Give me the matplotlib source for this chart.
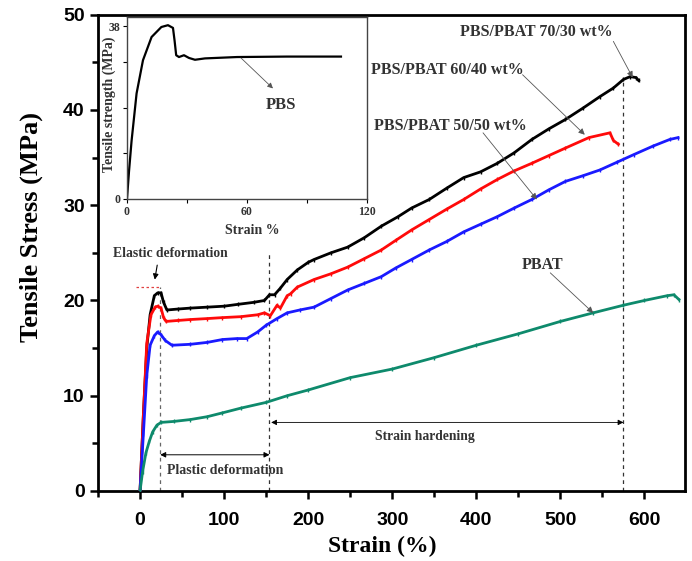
import matplotlib
matplotlib.use("Agg")
import matplotlib.pyplot as plt
from matplotlib.ticker import MultipleLocator, FixedLocator

SERIF = ["Liberation Serif", "DejaVu Serif"]
SANS = ["Liberation Sans", "DejaVu Sans"]

# ---------------- data ----------------
x_7030 = [0, 4, 8, 12, 17, 21, 25, 28, 32, 45, 60, 80, 100, 117, 135, 148, 154, 160, 167, 175, 187, 200,
          207, 227, 247, 267, 287, 307, 323, 344, 365, 385, 405, 425, 445, 466, 486, 506, 527, 547, 563,
          575, 583, 590, 593]
y_7030 = [0, 8, 15, 18.5, 20.5, 20.8, 20.8, 19.8, 19.0, 19.1, 19.2, 19.3, 19.4, 19.6, 19.8, 20.0, 20.6,
          20.6, 21.3, 22.2, 23.2, 24.0, 24.3, 25.0, 25.6, 26.6, 27.8, 28.8, 29.7, 30.6, 31.8, 32.9, 33.5,
          34.4, 35.5, 36.9, 38.0, 39.0, 40.2, 41.4, 42.3, 43.2, 43.5, 43.4, 43.1]

x_6040 = [0, 4, 8, 13, 18, 21, 25, 28, 31, 45, 60, 80, 98, 120, 140, 148, 155, 163, 167, 175, 179, 187,
          207, 227, 247, 267, 287, 304, 323, 344, 365, 385, 405, 425, 445, 466, 486, 506, 534, 559, 563, 569]
y_6040 = [0, 8, 15.5, 18.5, 19.3, 19.4, 19.2, 18.2, 17.8, 17.9, 18.0, 18.1, 18.2, 18.3, 18.5, 18.7, 18.4,
          19.5, 19.2, 20.5, 20.7, 21.4, 22.2, 22.8, 23.5, 24.4, 25.3, 26.3, 27.4, 28.5, 29.6, 30.6, 31.7,
          32.7, 33.6, 34.4, 35.2, 36.0, 37.1, 37.6, 36.8, 36.4]

x_5050 = [0, 4, 8, 12, 17, 21, 25, 30, 38, 60, 80, 98, 115, 127, 140, 150, 163, 175, 190, 207, 227, 247,
          267, 287, 304, 323, 344, 365, 385, 405, 425, 445, 466, 486, 506, 527, 547, 567, 587, 610, 630, 640]
y_5050 = [0, 6, 12.1, 15.3, 16.3, 16.7, 16.4, 15.8, 15.3, 15.4, 15.6, 15.9, 16.0, 16.0, 16.7, 17.4, 18.1,
          18.7, 19.0, 19.3, 20.2, 21.1, 21.8, 22.5, 23.4, 24.3, 25.3, 26.2, 27.2, 28.0, 28.8, 29.7, 30.6,
          31.6, 32.5, 33.1, 33.7, 34.5, 35.3, 36.2, 36.9, 37.1]

x_pbat = [0, 3, 7, 11, 15, 20, 25, 40, 60, 80, 98, 120, 150, 175, 200, 250, 300, 350, 400, 450, 500, 539,
          575, 600, 627, 635, 641]
y_pbat = [0, 2, 4, 5.2, 6.2, 6.9, 7.2, 7.3, 7.5, 7.8, 8.2, 8.7, 9.3, 10.0, 10.6, 11.9, 12.8, 14.0, 15.3,
          16.5, 17.8, 18.7, 19.5, 20.0, 20.5, 20.6, 20.1]

x_pbs = [0, 1, 2.3, 4.8, 8, 12.3, 17.2, 20.5, 23, 23.8, 24.6, 26, 28.5, 31, 34, 39, 55, 80, 107]
y_pbs = [0, 6, 12.8, 23.2, 30.5, 35.6, 37.8, 38.2, 37.6, 34.8, 31.6, 31.2, 31.6, 31.0, 30.6, 30.9, 31.2,
         31.3, 31.3]

series_labels = ["PBS/PBAT 70/30 wt%", "PBS/PBAT 60/40 wt%", "PBS/PBAT 50/50 wt%", "PBAT"]
series_colors = ["#000000", "#ff0a0a", "#1a1aff", "#0e8a6c"]

x_ticks = [0, 100, 200, 300, 400, 500, 600]
y_ticks = [0, 10, 20, 30, 40, 50]

elastic_end = 24
plastic_end = 154
hardening_end = 575

# ---------------- figure ----------------
fig = plt.figure(figsize=(6.92, 5.61), dpi=100)
ax = fig.add_axes([0.1416, 0.1248, 0.848, 0.849])

xs = [x_7030, x_6040, x_5050, x_pbat]
ys = [y_7030, y_6040, y_5050, y_pbat]
for x, y, c in zip(xs, ys, series_colors):
    ax.plot(x, y, color=c, lw=2.0, marker="|", ms=3.5, mew=1.0, zorder=3)

ax.set_xlim(-50, 648)
ax.set_ylim(0, 50)
ax.xaxis.set_major_locator(FixedLocator(x_ticks))
ax.xaxis.set_minor_locator(MultipleLocator(50))
ax.yaxis.set_major_locator(FixedLocator(y_ticks))
ax.yaxis.set_minor_locator(MultipleLocator(5))
ax.tick_params(which="both", direction="out", width=1.8, top=False, right=False)
ax.tick_params(which="major", length=6)
ax.tick_params(which="minor", length=4)
ax.tick_params(axis="x", which="major", pad=9)
for sp in ax.spines.values():
    sp.set_linewidth(2.0)
for lab in ax.get_xticklabels() + ax.get_yticklabels():
    lab.set_family(SANS)
    lab.set_fontweight("bold")
    lab.set_fontsize(14)

ax.set_xlabel("Strain (%)", family=SERIF, fontweight="bold", fontsize=17)
ax.xaxis.set_label_coords(0.485, -0.094)
ax.set_ylabel("Tensile Stress (MPa)", family=SERIF, fontweight="bold", fontsize=19)
ax.yaxis.set_label_coords(-0.094, 0.555)

# dashed guides
ax.plot([elastic_end, elastic_end], [0, 21.4], ls=(0, (3, 3)), color="#666666", lw=0.9, zorder=2)
ax.plot([plastic_end, plastic_end], [0, 25], ls=(0, (3, 3)), color="#333333", lw=0.9, zorder=2)
ax.plot([hardening_end, hardening_end], [0, 43.3], ls=(0, (3, 3)), color="#333333", lw=0.9, zorder=2)
ax.plot([-5, elastic_end], [21.4, 21.4], ls=(0, (2, 2)), color="#e04040", lw=0.9, zorder=2)

tfont = dict(family=SERIF, fontweight="bold", color="#333333")

# region annotations
ax.text(36, 24.9, "Elastic deformation", fontsize=9.8, ha="center", va="center", **tfont)
ax.annotate("", xy=(17, 21.9), xytext=(21, 24.0),
            arrowprops=dict(arrowstyle="-|>", color="black", lw=0.8, mutation_scale=8))
ax.annotate("", xy=(elastic_end, 3.8), xytext=(plastic_end, 3.8),
            arrowprops=dict(arrowstyle="<|-|>", color="black", lw=0.7, mutation_scale=8,
                            shrinkA=0, shrinkB=0))
ax.text(101, 2.2, "Plastic deformation", fontsize=10, ha="center", va="center", **tfont)
ax.annotate("", xy=(plastic_end + 2, 7.2), xytext=(hardening_end, 7.2),
            arrowprops=dict(arrowstyle="<|-|>", color="black", lw=0.6, mutation_scale=8,
                            shrinkA=0, shrinkB=0))
ax.text(339, 5.7, "Strain hardening", fontsize=9.8, ha="center", va="center", **tfont)

# series labels with arrows
label_pos = [(471, 48.2), (366, 44.2), (369, 38.3), (479, 23.7)]
arrow_from = [(563, 47.2), (455, 43.7), (408, 37.6), (488, 22.9)]
arrow_to = [(586, 43.4), (529, 37.4), (472, 30.6), (539, 18.7)]
for lab, (tx, ty), (fx, fy), (ex, ey) in zip(series_labels, label_pos, arrow_from, arrow_to):
    ax.text(tx, ty, lab, fontsize=11.5, ha="center", va="center", **tfont)
    ax.annotate("", xy=(ex, ey), xytext=(fx, fy),
                arrowprops=dict(arrowstyle="-|>", color="#555555", lw=0.6, mutation_scale=9,
                                shrinkA=0, shrinkB=0))

# ---------------- inset ----------------
ins = fig.add_axes([0.1835, 0.6453, 0.3468, 0.3244])
ins.plot(x_pbs, y_pbs, color="black", lw=1.6)
ins.set_xlim(0, 120)
ins.set_ylim(0, 40)
ins.xaxis.set_major_locator(FixedLocator([0, 60, 120]))
ins.xaxis.set_minor_locator(FixedLocator([30, 90]))
ins.yaxis.set_major_locator(FixedLocator([0, 10, 20, 30, 38]))
ins.set_yticklabels(["0", "", "", "", "38"])
ins.tick_params(which="both", direction="out", length=3, width=0.8, labelsize=8.5, pad=2)
for lab in ins.get_xticklabels() + ins.get_yticklabels():
    lab.set_family(SERIF)
    lab.set_fontweight("bold")
    lab.set_color("#333333")
for sp in ins.spines.values():
    sp.set_linewidth(1.0)
    sp.set_color("#444444")
ins.set_xlabel("Strain %", family=SERIF, fontweight="bold", fontsize=10, color="#333333")
ins.xaxis.set_label_coords(0.52, -0.14)
ins.set_ylabel("Tensile strength (MPa)", family=SERIF, fontweight="bold", fontsize=10,
               color="#333333")
ins.yaxis.set_label_coords(-0.045, 0.52)
ins.annotate("", xy=(73, 24.3), xytext=(57, 31),
             arrowprops=dict(arrowstyle="-|>", color="#555555", lw=0.6, mutation_scale=8,
                             shrinkA=0, shrinkB=0))
ins.text(77, 20.6, "PBS", fontsize=12, ha="center", va="center", **tfont)

fig.savefig("out.png", dpi=100)
